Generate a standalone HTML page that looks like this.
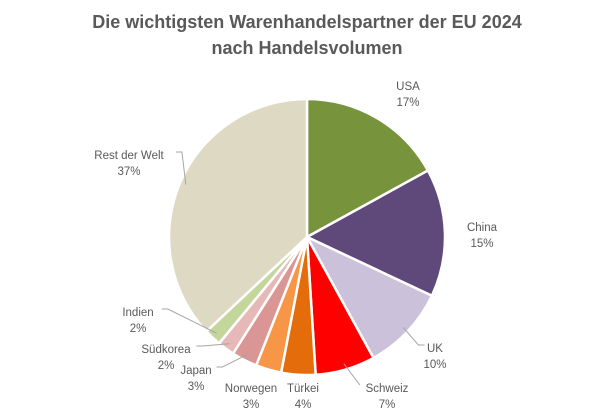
<!DOCTYPE html>
<html><head><meta charset="utf-8"><style>
body{margin:0;background:#fff;}
svg text{font-family:"Liberation Sans","DejaVu Sans",sans-serif;fill:#595959;}
</style></head><body>
<svg id="chart" width="615" height="414" viewBox="0 0 615 414" xmlns="http://www.w3.org/2000/svg">
<text x="307" y="28" text-anchor="middle" font-size="18" font-weight="bold">Die wichtigsten Warenhandelspartner der EU 2024</text>
<text x="307" y="54" text-anchor="middle" font-size="18" font-weight="bold">nach Handelsvolumen</text>
<g id="slices"></g>
<g id="labels"></g>
</svg>
<script>
const categories=["USA","China","UK","Schweiz","Türkei","Norwegen","Japan","Südkorea","Indien","Rest der Welt"];
const values=[17,15,10,7,4,3,3,2,2,37];
const colors=["#77933c","#5f497a","#ccc1da","#ff0000","#e46c0a","#f79646","#d99694","#e6b9b8","#c3d69b","#ddd9c3"];
const labelPos=[[408,86],[482,227],[435,348],[387,388],[303,388],[251,388],[196,370],[166,349],[138,312],[129,155]];
const cx=307,cy=237,r=138;
const NS="http://www.w3.org/2000/svg";
const gs=document.getElementById('slices'),gl=document.getElementById('labels');
const total=values.reduce((a,b)=>a+b,0);
function pt(a,rr){return [cx+rr*Math.sin(a),cy-rr*Math.cos(a)];}
let acc=0;
values.forEach((v,i)=>{
  const a0=acc/total*2*Math.PI;acc+=v;const a1=acc/total*2*Math.PI;
  const p0=pt(a0,r),p1=pt(a1,r);
  const path=document.createElementNS(NS,'path');
  path.setAttribute('d',`M${cx},${cy}L${p0[0]},${p0[1]}A${r},${r} 0 ${a1-a0>Math.PI?1:0} 1 ${p1[0]},${p1[1]}Z`);
  path.setAttribute('fill',colors[i]);path.setAttribute('stroke','#fff');path.setAttribute('stroke-width','2.5');
  
  
  gs.appendChild(path);
  const [lx,ly]=labelPos[i];
  const am=(a0+a1)/2;
  if(i>=2){
    const e=pt(am,r-6);
    const w=categories[i].length*3.3;
    let sx=lx<cx? lx+w+4 : lx-w-4;
    const ln=document.createElementNS(NS,'polyline');
    ln.setAttribute('points',`${sx},${ly-3} ${sx+(lx<cx?6:-6)},${ly-3} ${e[0]},${e[1]}`);
    if(i==3||i==4||i==5){ln.setAttribute('points',`${i==3?lx-w-4:lx},${ly-(i==3?3:12)} ${e[0]},${e[1]}`);}
    ln.setAttribute('fill','none');ln.setAttribute('stroke','#a6a6a6');ln.setAttribute('stroke-width','1');
    
    
    if(i!=4&&i!=5) gl.appendChild(ln);
  }
  const t=document.createElementNS(NS,'text');
  t.setAttribute('x',lx);t.setAttribute('y',ly+4);t.setAttribute('text-anchor','middle');t.setAttribute('font-size','11.5');
  t.textContent=categories[i];
  
  
  gl.appendChild(t);
  const t2=document.createElementNS(NS,'text');
  t2.setAttribute('x',lx);t2.setAttribute('y',ly+20);t2.setAttribute('text-anchor','middle');t2.setAttribute('font-size','11.5');
  t2.textContent=Math.round(v/total*100)+'%';
  
  
  gl.appendChild(t2);
});
</script>
</body></html>
